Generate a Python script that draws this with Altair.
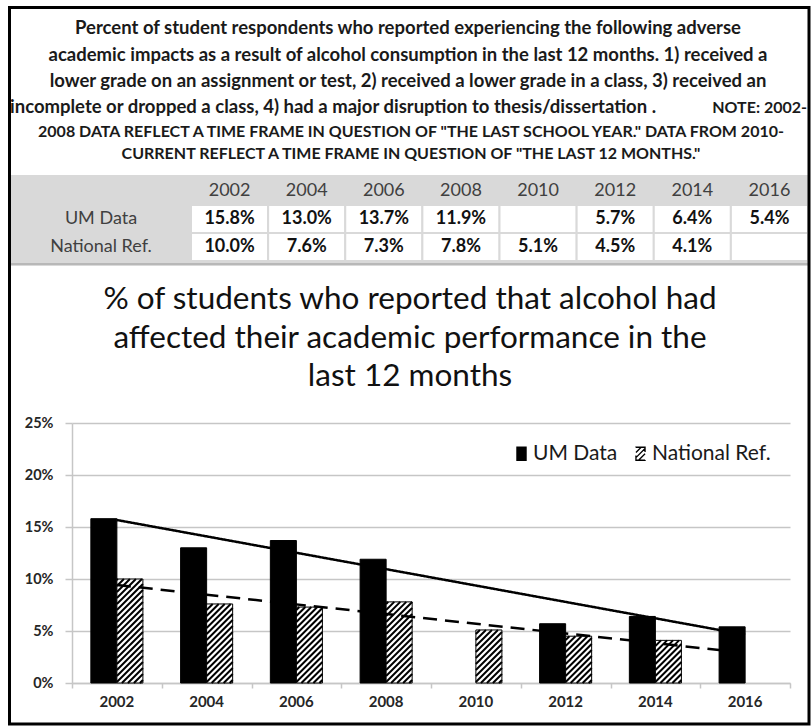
import altair as alt
import numpy as np
import pandas as pd

# ---- data -------------------------------------------------------------
YEARS = ["2002", "2004", "2006", "2008", "2010", "2012", "2014", "2016"]
UM_DATA = [15.8, 13.0, 13.7, 11.9, None, 5.7, 6.4, 5.4]
NATIONAL = [10.0, 7.6, 7.3, 7.8, 5.1, 4.5, 4.1, None]
SERIES = ["UM Data", "National Ref."]
Y_TICKS = [0, 5, 10, 15, 20, 25]

HEADER_LINES = [
    "Percent of student respondents who reported experiencing the following adverse",
    "academic impacts as a result of alcohol consumption in the last 12 months. 1) received a",
    "lower grade on an assignment or test, 2) received a lower grade in a class, 3) received an",
]
HEADER_LINE4 = "incomplete or dropped a class, 4) had a major disruption to thesis/dissertation ."
NOTE_START = "NOTE: 2002-"
NOTE_LINES = [
    '2008 DATA REFLECT A TIME FRAME IN QUESTION OF "THE LAST SCHOOL YEAR." DATA FROM 2010-',
    'CURRENT REFLECT A TIME FRAME IN QUESTION OF "THE LAST 12 MONTHS."',
]
CHART_TITLE = [
    "% of students who reported that alcohol had",
    "affected their academic performance in the",
    "last 12 months",
]

# ---- layout -----------------------------------------------------------
FONT = "Lato"
FIG_W, FIG_H = 811, 726
LEFT, TOP = 72, 423          # top-left corner of the bar plot area
PLOT_W, PLOT_H = 718, 260
Y_MAX = 25
PAD_INNER = 0.42
STEP = PLOT_W / len(YEARS)
BAR_W = STEP * (1 - PAD_INNER) / 2
PX_PER_PCT = PLOT_H / Y_MAX
HATCH_GAP = 6.0
GRID = "#c6c6c6"
TABLE_BG = "#d9d9d9"


def X(a):
    return a - LEFT


def Y(a):
    return a - TOP


ONE = pd.DataFrame({"k": [0]})

# long table of every year / series pair
rows = []
for i, yr in enumerate(YEARS):
    for s, vals in zip(SERIES, (UM_DATA, NATIONAL)):
        v = vals[i]
        rows.append({
            "year": yr,
            "pos": i + 1,
            "series": s,
            "value": np.nan if v is None else v,
            "label": "" if v is None else f"{v:.1f}%",
        })
long_df = pd.DataFrame(rows)

# diagonal hatch segments inside each National Ref. bar
hatch = []
for i, v in enumerate(NATIONAL):
    if v is None:
        continue
    h = v * PX_PER_PCT
    c = -BAR_W + HATCH_GAP / 2
    while c < h:
        x0 = max(0.0, -c)
        x1 = min(BAR_W, h - c)
        if x1 > x0:
            hatch.append({
                "x0": i + 1 + x0 / STEP, "x1": i + 1 + x1 / STEP,
                "y0": (x0 + c) / PX_PER_PCT, "y1": (x1 + c) / PX_PER_PCT,
            })
        c += HATCH_GAP
hatch_df = pd.DataFrame(hatch)

pos_scale = alt.Scale(domain=[0.5, len(YEARS) + 0.5], nice=False, zero=False)
y_scale = alt.Scale(domain=[0, Y_MAX], nice=False)


def text_block(lines, x_abs, y_abs, size, weight="bold", line_height=None,
               align="center", color="#1a1a1a"):
    # y_abs is the middle of the first line
    kw = dict(text=lines, font=FONT, fontSize=size, fontWeight=weight,
              align=align, baseline="middle", color=color)
    if line_height:
        kw["lineHeight"] = line_height
    return alt.Chart(ONE).mark_text(**kw).encode(
        x=alt.value(X(x_abs)), y=alt.value(Y(y_abs)))


# ---- header paragraph -------------------------------------------------
header = text_block(HEADER_LINES, 408, 28, 18.5, line_height=26.5)
line4 = text_block(HEADER_LINE4, 10, 107, 18.5, align="left")
note4 = text_block(NOTE_START, 807, 108, 16, align="right")
notes = text_block(NOTE_LINES, 411, 132, 16, line_height=22)

# ---- data table -------------------------------------------------------
table_bg = alt.Chart(ONE).mark_rect(color=TABLE_BG).encode(
    x=alt.value(X(10)), x2=alt.value(X(808)),
    y=alt.value(Y(175)), y2=alt.value(Y(266)))
table_rule = alt.Chart(ONE).mark_rule(color="#b8b8b8", strokeWidth=2).encode(
    x=alt.value(X(10)), x2=alt.value(X(808)), y=alt.value(Y(264)))

tx = alt.X("year:N", sort=YEARS,
           scale=alt.Scale(domain=YEARS, range=[X(191), X(808)],
                           paddingInner=0, paddingOuter=0), axis=None)
ty = alt.Y("series:N", sort=SERIES,
           scale=alt.Scale(domain=SERIES, range=[Y(205), Y(261)],
                           paddingInner=0, paddingOuter=0), axis=None)

cells = alt.Chart(long_df).mark_rect(fill="white", stroke=TABLE_BG, strokeWidth=2).encode(
    x=tx, y=ty)
cell_text = alt.Chart(long_df).mark_text(
    font=FONT, fontSize=18, fontWeight="bold", color="#111111", baseline="middle"
).encode(x=tx, y=ty, text="label:N")
year_head = alt.Chart(pd.DataFrame({"year": YEARS})).mark_text(
    font=FONT, fontSize=18, color="#404040", baseline="middle"
).encode(x=tx, y=alt.value(Y(191)), text="year:N")
row_head = alt.Chart(pd.DataFrame({"series": SERIES})).mark_text(
    font=FONT, fontSize=18, color="#404040", baseline="middle"
).encode(x=alt.value(X(101)), y=ty, text="series:N")

# ---- chart title ------------------------------------------------------
title = text_block(CHART_TITLE, 410, 300, 31.5, weight="normal", line_height=38.5,
                   color="#111111")

# ---- bars -------------------------------------------------------------
SYMBOL = ("M-0.7,-1H0.7V1H-0.7Z M-0.7,-0.2L0.1,-1 M-0.7,0.6L0.7,-0.8 "
          "M-0.3,1L0.7,0")
bars = alt.Chart(long_df).transform_filter("isValid(datum.value)").mark_bar(
    stroke="black", strokeWidth=1
).encode(
    x=alt.X("year:N", sort=YEARS,
            scale=alt.Scale(domain=YEARS, paddingInner=PAD_INNER,
                            paddingOuter=PAD_INNER / 2),
            axis=alt.Axis(title=None, labelAngle=0, ticks=False, tickSize=0,
                          domain=False, labelFont=FONT, labelFontSize=15,
                          labelFontWeight="bold", labelColor="#262626",
                          labelPadding=11)),
    xOffset=alt.XOffset("series:N", sort=SERIES,
                        scale=alt.Scale(domain=SERIES, paddingInner=0, paddingOuter=0)),
    y=alt.Y("value:Q", scale=y_scale,
            axis=alt.Axis(title=None, values=Y_TICKS, labelExpr="datum.value + '%'",
                          grid=True, gridColor=GRID, gridWidth=1.5,
                          domainColor=GRID, domainWidth=1.5,
                          tickColor=GRID, tickSize=7, tickWidth=1.5,
                          labelFont=FONT, labelFontSize=14.5, labelFontWeight="bold",
                          labelColor="#262626", labelPadding=12)),
    fill=alt.Fill("series:N", sort=SERIES,
                  scale=alt.Scale(domain=SERIES, range=["black", "white"]),
                  legend=alt.Legend(title=None, orient="none",
                                    legendX=X(511), legendY=Y(443),
                                    direction="horizontal", symbolType=SYMBOL,
                                    symbolSize=170, symbolStrokeColor="black",
                                    symbolStrokeWidth=1.3, labelFont=FONT,
                                    labelFontSize=21, labelColor="#1a1a1a",
                                    columnPadding=12, labelOffset=1)),
)

hatch_layer = alt.Chart(hatch_df).mark_rule(color="black", strokeWidth=2).encode(
    x=alt.X("x0:Q", scale=pos_scale, axis=None), x2="x1:Q",
    y=alt.Y("y0:Q", scale=y_scale, axis=None), y2="y1:Q")

# ---- linear trend lines (least squares over the plotted points) -------
trend = alt.Chart(long_df).transform_filter("isValid(datum.value)").transform_regression(
    "pos", "value", groupby=["series"], extent=[1, len(YEARS)]
).mark_line(color="black", strokeWidth=2.5).encode(
    x=alt.X("pos:Q", scale=pos_scale,
            axis=alt.Axis(orient="bottom", values=[k + 0.5 for k in range(len(YEARS) + 1)],
                          labels=False, ticks=True, tickSize=5, tickWidth=1.5,
                          tickColor=GRID, domain=True, domainColor=GRID,
                          domainWidth=1.5, grid=False, title=None)),
    y=alt.Y("value:Q", scale=y_scale, axis=None),
    strokeDash=alt.StrokeDash("series:N", sort=SERIES,
                              scale=alt.Scale(domain=SERIES, range=[[1, 0], [14, 8]]),
                              legend=None),
)

# ---- outer frame ------------------------------------------------------
frame = alt.Chart(ONE).mark_rect(fillOpacity=0, stroke="black", strokeWidth=3).encode(
    x=alt.value(X(9.5)), x2=alt.value(X(809)),
    y=alt.value(Y(7.5)), y2=alt.value(Y(724)))

chart = alt.layer(
    header, line4, note4, notes,
    table_bg, table_rule, cells, cell_text, year_head, row_head,
    title, bars, hatch_layer, trend, frame,
).resolve_scale(
    x="independent", y="independent"
).properties(
    width=PLOT_W, height=PLOT_H,
    padding={"left": LEFT, "top": TOP,
             "right": FIG_W - LEFT - PLOT_W, "bottom": FIG_H - TOP - PLOT_H},
    autosize=alt.AutoSizeParams(type="none"),
    background="white",
).configure_view(strokeWidth=0)

chart.save("out.html", embed_options={"renderer": "svg", "actions": False})
